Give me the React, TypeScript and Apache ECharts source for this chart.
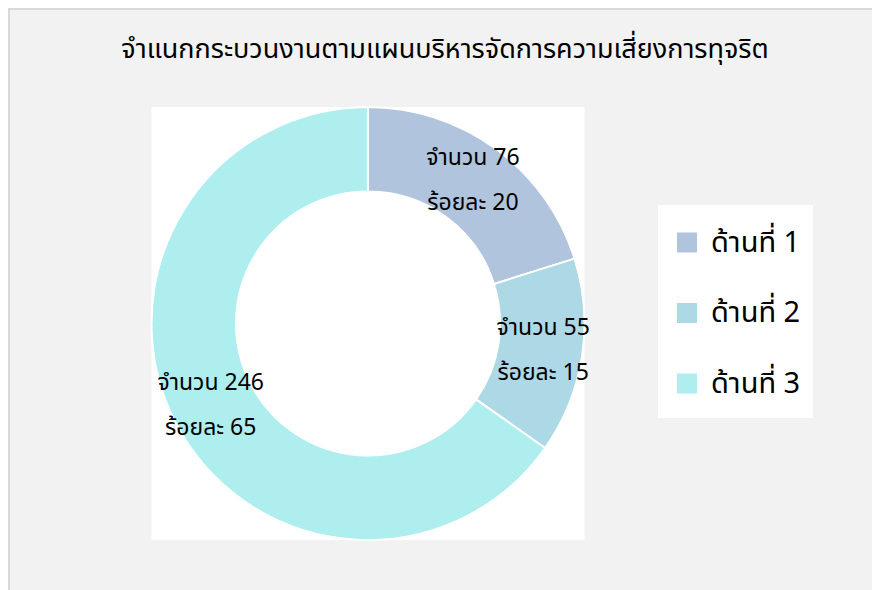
import React, { useEffect, useRef } from "react";
import * as echarts from "echarts";

const categories = ["ด้านที่ 1", "ด้านที่ 2", "ด้านที่ 3"];
const counts = [76, 55, 246];
const colors = ["#b0c4de", "#add8e6", "#afeeee"];
const titleText = "จำแนกกระบวนงานตามแผนบริหารจัดการความเสี่ยงการทุจริต";

const FONT = "'Leelawadee UI', Tahoma, 'Noto Sans Thai', 'Noto Sans', sans-serif";

export default function App() {
  const ref = useRef<HTMLDivElement>(null);
  useEffect(() => {
    if (!ref.current) return;
    const chart = echarts.init(ref.current, undefined, { renderer: "svg" });
    const cx = 358;
    const cy = 313.5;
    const r = 216.5;
    chart.setOption({
      animation: false,
      backgroundColor: "#f2f2f2",
      title: {
        text: titleText,
        left: "center",
        top: 21,
        textStyle: { fontFamily: FONT, fontSize: 27, fontWeight: "normal", color: "#000" },
      },
      graphic: [
        {
          type: "rect",
          z: -10,
          shape: { x: cx - r, y: cy - r, width: 2 * r, height: 2 * r },
          style: { fill: "#ffffff" },
          silent: true,
        },
        {
          type: "rect",
          z: -10,
          shape: { x: 648, y: 195, width: 155, height: 213 },
          style: { fill: "#ffffff" },
          silent: true,
        },
      ],
      legend: {
        orient: "vertical",
        left: 648,
        top: 193,
        padding: [25, 10, 24, 17],
        itemWidth: 22,
        itemHeight: 22,
        itemGap: 41.5,
        icon: "rect",
        data: categories,
        textStyle: {
          fontFamily: FONT,
          fontSize: 29,
          lineHeight: 22,
          color: "#000",
          padding: [0, 0, 0, 8],
        },
      },
      series: [
        {
          type: "pie",
          center: [cx, cy],
          radius: [132, r],
          startAngle: 90,
          clockwise: true,
          percentPrecision: 0,
          itemStyle: { borderColor: "#ffffff", borderWidth: 2 },
          label: {
            show: true,
            position: "inside",
            formatter: "จำนวน {c}\nร้อยละ {d}",
            fontFamily: FONT,
            fontSize: 23,
            lineHeight: 45,
            color: "#000",
          },
          labelLine: { show: false },
          emphasis: { disabled: true },
          data: categories.map((name, i) => ({
            name,
            value: counts[i],
            itemStyle: { color: colors[i] },
          })),
        },
      ],
    });
    return () => chart.dispose();
  }, []);
  return (
    <div
      style={{
        width: 872,
        height: 582,
        boxSizing: "border-box",
        borderTop: "2px solid #d9d9d9",
        borderLeft: "2px solid #d9d9d9",
        overflow: "hidden",
      }}
    >
      <div ref={ref} style={{ width: 870, height: 580 }} />
    </div>
  );
}
